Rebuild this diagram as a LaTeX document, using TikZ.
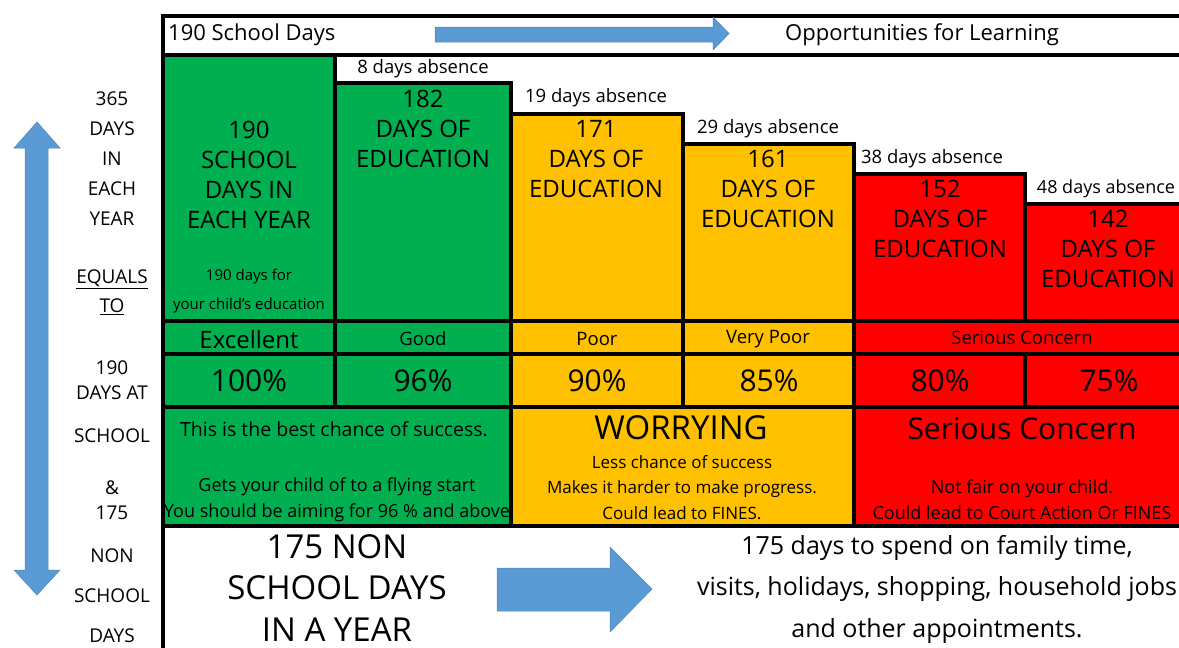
\documentclass[tikz,border=0pt]{standalone}
\usepackage{fontspec}
\setmainfont{Open Sans}
\usetikzlibrary{calc}
\definecolor{goodgreen}{RGB}{0,176,80}
\definecolor{poorgold}{RGB}{255,192,0}
\definecolor{badred}{RGB}{255,0,0}
\definecolor{arrowblue}{RGB}{91,155,213}
\newcommand{\fsz}[2]{\fontsize{#1}{#2}\selectfont}

\begin{document}
\begin{tikzpicture}[x=1pt,y=-1pt,
  grid/.style={draw=black,line width=3.5pt},
  txt/.style={inner sep=0pt,align=center,text=black},
  big/.style={txt,font=\fsz{24}{30}},
  side/.style={txt,font=\fsz{19}{30}},
  absent/.style={txt,font=\fsz{18.5}{20}},
  band/.style={txt,font=\fsz{18.5}{20}},
  pct/.style={txt,font=\fsz{30}{36}},
  note/.style={txt,font=\fsz{17}{25.5}},
  headline/.style={txt,font=\fsz{30}{36}},
  blockarrow/.style={fill=arrowblue,draw=arrowblue!85!black,line width=0.5pt}]
\useasboundingbox (0,0) rectangle (1179,648);

% header strip
\filldraw[grid,fill=white] (163,16) rectangle (1190,55);
\node[txt,font=\fsz{22}{26},anchor=west] (schooldays) at (168,35) {190 School Days};
\node[txt,font=\fsz{22}{26}] (learning) at (922,35) {Opportunities for Learning};
\filldraw[blockarrow] (435,27) -- (713,27) -- (713,17) -- (729,33.5) -- (713,50) -- (713,42) -- (435,42) -- cycle;

% columns of days
\filldraw[grid,fill=goodgreen] (163,55) rectangle (335,321);
\filldraw[grid,fill=goodgreen] (335,83) rectangle (511,321);
\filldraw[grid,fill=poorgold] (511,114) rectangle (683,321);
\filldraw[grid,fill=poorgold] (683,144) rectangle (854,321);
\filldraw[grid,fill=badred] (854,174) rectangle (1025,321);
\filldraw[grid,fill=badred] (1025,204) rectangle (1190,321);

\node[big] (full) at (249,175) {190\\SCHOOL\\DAYS IN\\EACH YEAR};
\node[txt,font=\fsz{15}{29}] (fullnote) at (249,291.5) {190 days for\\your child's education};

\node[absent] (abs8) at (423,69) {8 days absence};
\node[big] (days182) at (423,128.5) {182\\DAYS OF\\EDUCATION};
\node[absent] (abs19) at (596,98) {19 days absence};
\node[big] (days171) at (596,159) {171\\DAYS OF\\EDUCATION};
\node[absent] (abs29) at (768,129) {29 days absence};
\node[big] (days161) at (768,189) {161\\DAYS OF\\EDUCATION};
\node[absent] (abs38) at (932,159) {38 days absence};
\node[big] (days152) at (940,219) {152\\DAYS OF\\EDUCATION};
\node[absent,font=\fsz{18}{20}] (abs48) at (1106,189) {48 days absence};
\node[big] (days142) at (1108,249) {142\\DAYS OF\\EDUCATION};

% rating band
\filldraw[grid,fill=goodgreen] (163,321) rectangle (335,354);
\filldraw[grid,fill=goodgreen] (335,321) rectangle (511,354);
\filldraw[grid,fill=poorgold] (511,321) rectangle (683,354);
\filldraw[grid,fill=poorgold] (683,321) rectangle (854,354);
\filldraw[grid,fill=badred] (854,321) rectangle (1190,354);

\node[txt,font=\fsz{24}{26}] (excellent) at (249,339) {Excellent};
\node[band] (good) at (423,339) {Good};
\node[band] (poor) at (597,339) {Poor};
\node[band] (verypoor) at (768,339) {Very Poor};
\node[band] (serious) at (1022,338) {Serious Concern};

% percentages
\filldraw[grid,fill=goodgreen] (163,354) rectangle (335,407);
\filldraw[grid,fill=goodgreen] (335,354) rectangle (511,407);
\filldraw[grid,fill=poorgold] (511,354) rectangle (683,407);
\filldraw[grid,fill=poorgold] (683,354) rectangle (854,407);
\filldraw[grid,fill=badred] (854,354) rectangle (1025,407);
\filldraw[grid,fill=badred] (1025,354) rectangle (1190,407);

\node[pct] (p100) at (249,381) {100\%};
\node[pct] (p96) at (423,381) {96\%};
\node[pct] (p90) at (597,381) {90\%};
\node[pct] (p85) at (769,381) {85\%};
\node[pct] (p80) at (940,381) {80\%};
\node[pct] (p75) at (1109,381) {75\%};

% what it means
\filldraw[grid,fill=goodgreen] (163,407) rectangle (511,526);
\filldraw[grid,fill=poorgold] (511,407) rectangle (854,526);
\filldraw[grid,fill=badred] (854,407) rectangle (1190,526);

\node[txt,font=\fsz{19.5}{22}] (best) at (334,429) {This is the best chance of success.};
\node[note,font=\fsz{18}{26}] (flying) at (337,500) {Gets your child of to a flying start\\You should be aiming for 96 \% and above};
\node[headline,font=\fsz{33}{36}] (worrying) at (681,428) {WORRYING};
\node[note] (lesschance) at (682,487.5) {Less chance of success\\Makes it harder to make progress.\\Could lead to FINES.};
\node[headline] (concern) at (1022,429) {Serious Concern};
\node[note,font=\fsz{18}{26}] (notfair) at (1022,500) {Not fair on your child.\\Could lead to Court Action Or FINES};

% non school days
\draw[grid] (163,526) -- (163,660);
\node[txt,font=\fsz{33}{41.5}] (nonschool) at (337,588) {175 NON\\SCHOOL DAYS\\IN A YEAR};
\filldraw[blockarrow] (497,568) -- (610,568) -- (610,547) -- (652,589) -- (610,632) -- (610,611) -- (497,611) -- cycle;
\node[txt,font=\fsz{25}{41.5}] (family) at (937,589) {175 days to spend on family time,\\visits, holidays, shopping, household jobs\\and other appointments.};

% side column
\filldraw[blockarrow] (37,122) -- (60,148) -- (48,148) -- (48,570) -- (60,570) -- (37,595) -- (14,570) -- (25,570) -- (25,148) -- (14,148) -- cycle;
\node[side] (year) at (112,159) {365\\DAYS\\IN\\EACH\\YEAR};
\node[side,font=\fsz{19}{29}] (equals) at (112,292.5) {\underline{EQUALS}\\\underline{TO}};
\node[side,font=\fsz{19}{25}] (atschool) at (112,380.5) {190\\DAYS AT};
\node[side] (school) at (112,436) {SCHOOL};
\node[side,font=\fsz{19}{25}] (amp) at (112,500.5) {\&\\175};
\node[side,font=\fsz{19}{40}] (nonsch) at (112,596) {NON\\SCHOOL\\DAYS};
\end{tikzpicture}
\end{document}
